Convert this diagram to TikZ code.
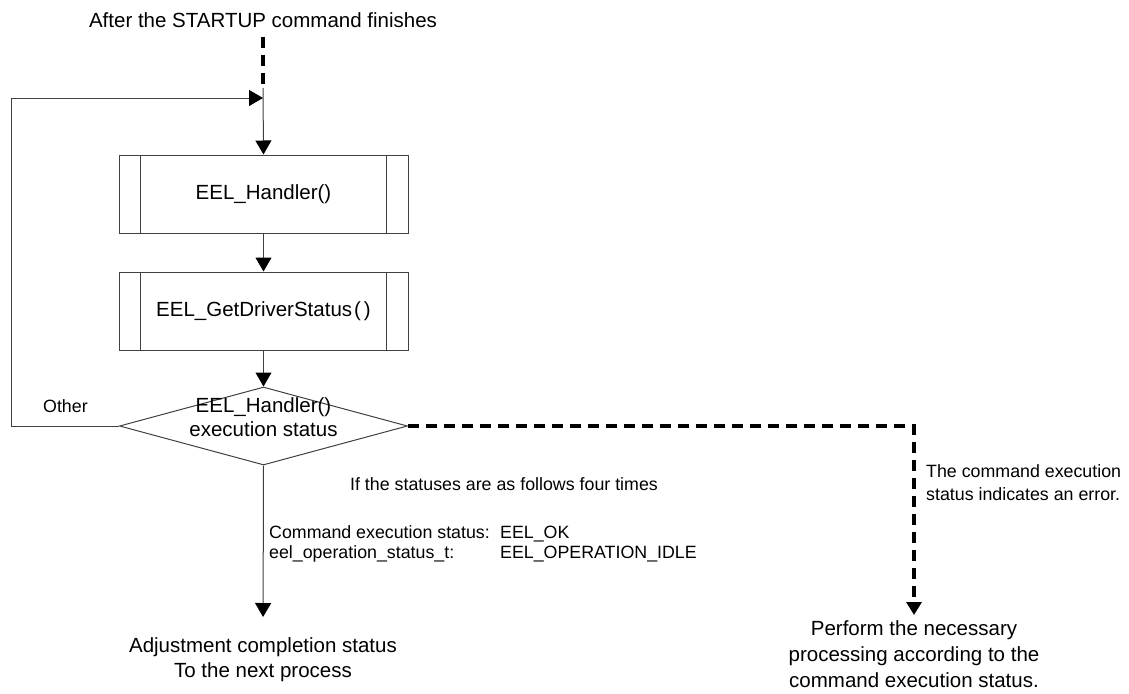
\documentclass[tikz,border=0pt]{standalone}
\usepackage{fontspec}
\setmainfont{Liberation Sans}
\usetikzlibrary{shapes.geometric,arrows.meta,calc}
\newcommand\bigf{\fontsize{20.5}{24}\selectfont}
\newcommand\smallf{\fontsize{17.8}{20}\selectfont}
\tikzset{
  ln/.style={draw=black!75, line width=1pt},
  arr/.style={ln, -{Triangle[width=16pt,length=14pt,color=black]}},
  dsh/.style={draw=black, line width=3.5pt, dash pattern=on 11pt off 7pt},
  darr/.style={dsh, -{Triangle[width=15pt,length=13pt,color=black]}},
  proc/.style={draw=black!75, line width=1pt, minimum width=289pt, minimum height=78pt, inner sep=0pt, font=\bigf},
  dia/.style={diamond, draw=black!75, line width=1pt, minimum width=288pt, minimum height=78pt, inner sep=0pt},
  txt/.style={inner sep=0pt, font=\bigf},
  stxt/.style={inner sep=0pt, font=\smallf}
}
\begin{document}
\begin{tikzpicture}[x=1pt,y=-1pt]
\useasboundingbox (0,0) rectangle (1129,693);
% nodes
\node[txt] (after) at (263,20) {After the STARTUP command finishes};
\coordinate (dot) at (263,88);
\coordinate (join) at (263,98);
\coordinate (lx) at (11,98);
\node[proc] (b1) at (263.5,194) {EEL\_Handler()};
\node[proc] (b2) at (263.5,311) {EEL\_GetDriverStatus\kern2pt(\kern3pt)};
\node[dia] (d) at (263.5,426) {};
\node[txt, align=center] (dl) at (263.5,417) {EEL\_Handler()\\execution status};
\node[stxt, anchor=base west] (other) at (43,412) {Other};
\node[stxt, anchor=base] (cond) at (504,490) {If the statuses are as follows four times};
\node[stxt, anchor=base west] (k1) at (269,538) {Command execution status:};
\node[stxt, anchor=base west] (v1) at (500,538) {EEL\_OK};
\node[stxt, anchor=base west] (k2) at (269,558) {eel\_operation\_status\_t:};
\node[stxt, anchor=base west] (v2) at (500,558) {EEL\_OPERATION\_IDLE};
\node[inner sep=0pt, font=\fontsize{20.5}{25.5}\selectfont, align=center, anchor=north] (adj) at (263,637) {Adjustment completion status\\To the next process};
\coordinate (rc) at (914,426);
\node[inner sep=0pt, font=\fontsize{17.8}{23}\selectfont, align=left, anchor=north west] (err) at (926,464) {The command execution\\status indicates an error.};
\node[inner sep=0pt, font=\fontsize{20.5}{26}\selectfont, align=center, anchor=north] (perf) at (914,620) {Perform the necessary\\processing according to the\\command execution status.};
% box inner lines
\foreach \b in {b1,b2}{
  \draw[ln] ($(\b.north west)+(22,0)$) -- ($(\b.south west)+(22,0)$);
  \draw[ln] ($(\b.north east)+(-22,0)$) -- ($(\b.south east)+(-22,0)$);
}
% connectors
\draw[dsh] ([yshift=-9pt]after.south) -- (dot);
\draw[arr] (dot) -- (b1.north);
\draw[arr] (b1.south) -- (b2.north);
\draw[arr] (b2.south) -- (d.north);
\draw[arr] (d.west) -| (lx) -- (join);
\draw[arr, shorten >=20pt] (d.south) -- (adj.north);
\draw[darr, shorten >=5pt] (d.east) -- (rc) -- (perf.north);
\end{tikzpicture}
\end{document}
